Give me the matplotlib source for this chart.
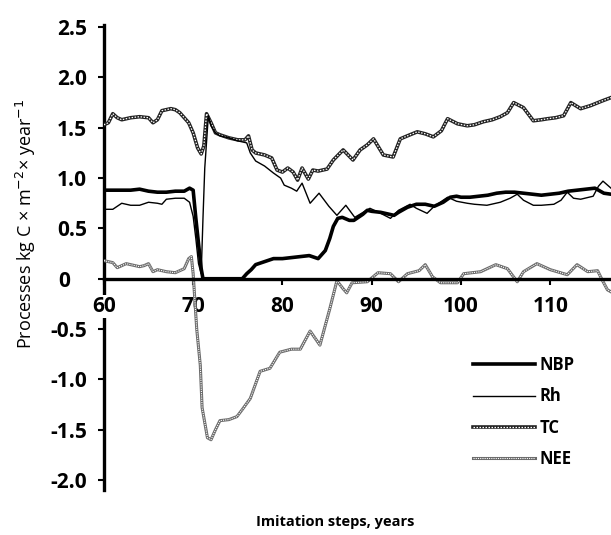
import matplotlib
matplotlib.use('Agg')
import matplotlib.pyplot as plt
from matplotlib.lines import Line2D

plt.rcParams['font.family'] = ['Open Sans', 'DejaVu Sans']

# NBP
nbp_x = [60, 61, 62, 63, 64, 65, 66, 67, 68, 69, 69.6, 70.0, 70.3, 70.6, 70.9, 71.1,
         72, 73, 74, 75, 75.5, 76, 76.5, 77, 78, 79, 80, 81, 82, 83, 84, 84.8, 85.3,
         85.7, 86.2, 86.7, 87.5, 88, 89, 89.5, 90, 91, 92, 92.5, 93, 94, 95, 96, 97,
         98, 98.8, 99.5, 100, 101, 102, 103, 104, 105, 106, 107, 108, 109, 110, 111,
         112, 113, 114, 115, 116, 116.8]
nbp_y = [0.88, 0.88, 0.88, 0.88, 0.89, 0.87, 0.86, 0.86, 0.87, 0.87, 0.90, 0.88, 0.60,
         0.35, 0.10, 0.0, 0.0, 0.0, 0.0, 0.0, 0.0, 0.05, 0.09, 0.14, 0.17, 0.20, 0.20,
         0.21, 0.22, 0.23, 0.20, 0.28, 0.40, 0.52, 0.60, 0.61, 0.58, 0.58, 0.64, 0.68,
         0.67, 0.66, 0.64, 0.63, 0.66, 0.71, 0.74, 0.74, 0.72, 0.76, 0.81, 0.82, 0.81,
         0.81, 0.82, 0.83, 0.85, 0.86, 0.86, 0.85, 0.84, 0.83, 0.84, 0.85, 0.87, 0.88,
         0.89, 0.90, 0.85, 0.84]

# Rh
rh_x = [60, 61, 62, 63, 64, 65, 66, 66.5, 67, 68, 69, 69.6, 70.0, 70.3, 70.6, 70.9,
        71.1, 71.3, 71.7, 72, 72.5, 73, 74, 75, 76, 76.4, 77, 78, 79, 79.8, 80.2, 81,
        81.6, 82.2, 83.1, 84.1, 85.2, 86.1, 87.1, 88.1, 89.8, 91, 92.1, 93, 94.3, 95,
        96.2, 97, 98.5, 99.5, 100.7, 101.5, 102.9, 104.4, 105.5, 106.3, 107, 108.1,
        109, 110.4, 111.2, 111.9, 112.6, 113.4, 114.8, 115.4, 115.9, 116.8]
rh_y = [0.69, 0.69, 0.75, 0.73, 0.73, 0.76, 0.75, 0.74, 0.79, 0.80, 0.80, 0.76, 0.62,
        0.40, 0.15, 0.05, 0.60, 1.10, 1.62, 1.52, 1.45, 1.42, 1.40, 1.37, 1.35, 1.25,
        1.17, 1.12, 1.05, 1.00, 0.93, 0.90, 0.87, 0.95, 0.75, 0.85, 0.72, 0.63, 0.73,
        0.61, 0.70, 0.65, 0.60, 0.68, 0.74, 0.70, 0.65, 0.72, 0.81, 0.77, 0.75, 0.74,
        0.73, 0.76, 0.80, 0.84, 0.78, 0.73, 0.73, 0.74, 0.78, 0.86, 0.80, 0.79, 0.82,
        0.92, 0.97, 0.90]

# TC
tc_x = [60, 60.5, 61, 61.5, 62, 63, 64, 65, 65.5, 66, 66.5, 67, 67.5, 68, 68.5, 69,
        69.5, 70, 70.5, 70.9, 71.2, 71.5, 72, 72.5, 73, 74, 75, 75.8, 76.2, 76.6, 77,
        78, 78.8, 79.4, 80, 80.6, 81.2, 81.7, 82.2, 82.9, 83.4, 84, 85, 85.7, 86.8,
        87.9, 88.7, 89.5, 90.2, 91.3, 92.4, 93.2, 94, 95.1, 96, 96.9, 97.8, 98.5, 99.6,
        100.7, 101.5, 102.5, 103.5, 104.4, 105.2, 105.9, 107, 108.1, 109, 109.7, 110.6,
        111.5, 112.3, 113.4, 114.5, 115.9, 116.8]
tc_y = [1.53, 1.55, 1.64, 1.60, 1.58, 1.60, 1.61, 1.60, 1.55, 1.58, 1.67, 1.68, 1.69,
        1.68, 1.65, 1.60, 1.55, 1.45, 1.30, 1.24, 1.32, 1.64, 1.55, 1.45, 1.43, 1.40,
        1.38, 1.38, 1.42, 1.28, 1.25, 1.23, 1.20, 1.08, 1.06, 1.10, 1.06, 0.98, 1.10,
        0.99, 1.08, 1.07, 1.09, 1.18, 1.28, 1.18, 1.28, 1.33, 1.39, 1.23, 1.21, 1.39,
        1.42, 1.46, 1.44, 1.41, 1.47, 1.59, 1.54, 1.52, 1.53, 1.56, 1.58, 1.61, 1.65,
        1.75, 1.70, 1.57, 1.58, 1.59, 1.60, 1.62, 1.75, 1.69, 1.72, 1.77, 1.80]

# NEE
nee_x = [60, 60.5, 61, 61.5, 62, 62.5, 63, 64, 64.5, 65, 65.5, 66, 67, 68, 68.5, 69,
         69.5, 69.8, 70.0, 70.4, 70.8, 71.0, 71.6, 72.0, 72.5, 73, 74, 74.9, 75.5, 76.4,
         77.5, 78.6, 79.7, 81, 82, 83.1, 84.2, 85.3, 86.1, 86.8, 87.2, 87.8, 89.5, 90.7,
         92.1, 93, 94, 95.3, 96, 96.8, 97.7, 99.6, 100.3, 102.2, 103.9, 105.2, 106.3,
         107, 108.5, 110, 111.9, 113, 114.2, 115.3, 115.8, 116.4, 116.8]
nee_y = [0.18, 0.17, 0.16, 0.11, 0.13, 0.15, 0.14, 0.12, 0.13, 0.15, 0.07, 0.09, 0.07,
         0.06, 0.08, 0.10, 0.20, 0.22, 0.05, -0.50, -0.86, -1.28, -1.58, -1.60, -1.50,
         -1.41, -1.40, -1.37, -1.30, -1.19, -0.92, -0.89, -0.73, -0.70, -0.70, -0.52,
         -0.66, -0.30, -0.02, -0.10, -0.14, -0.04, -0.03, 0.06, 0.05, -0.03, 0.05, 0.08,
         0.14, 0.02, -0.04, -0.04, 0.05, 0.07, 0.14, 0.10, -0.03, 0.07, 0.15, 0.09, 0.04,
         0.14, 0.07, 0.08, -0.01, -0.11, -0.13]

x_ticks = [60, 70, 80, 90, 100, 110]
y_ticks = [2.5, 2.0, 1.5, 1.0, 0.5, 0, -0.5, -1.0, -1.5, -2.0]
# the zero label sits further left in the original, hence the trailing spaces
y_tick_labels = ['2.5', '2.0', '1.5', '1.0', '0.5', '0   ', '-0.5', '-1.0', '-1.5', '-2.0']

fig = plt.figure(figsize=(6.11, 5.35), dpi=100)
ax = fig.add_axes([0.170, 0.084, 0.830, 0.869])

ax.plot(nbp_x, nbp_y, color='black', lw=2.6, zorder=5)
ax.plot(rh_x, rh_y, color='black', lw=1.0, zorder=4)

# beaded look for TC and NEE: dark base line with a white dotted line on top
tc_base, = ax.plot(tc_x, tc_y, color='#222222', lw=2.6, zorder=3)
tc_top, = ax.plot(tc_x, tc_y, color='white', lw=0.9, ls=(0, (1.2, 1.2)), zorder=3)
nee_base, = ax.plot(nee_x, nee_y, color='#6a6a6a', lw=2.2, zorder=2)
nee_top, = ax.plot(nee_x, nee_y, color='white', lw=0.8, ls=(0, (1, 1)), zorder=2)

ax.set_xlim(60, 116.8)
ax.set_ylim(-2.1, 2.52)

ax.spines['top'].set_visible(False)
ax.spines['right'].set_visible(False)
ax.spines['bottom'].set_position(('data', 0))
ax.spines['bottom'].set_linewidth(2.4)
ax.spines['left'].set_linewidth(2.4)
ax.spines['bottom'].set_zorder(6)
ax.spines['left'].set_zorder(1)

ax.set_xticks(x_ticks)
ax.set_xticklabels([str(t) for t in x_ticks], fontsize=15, fontweight='bold')
ax.set_yticks(y_ticks)
ax.set_yticklabels(y_tick_labels, fontsize=15, fontweight='bold')
ax.tick_params(axis='x', direction='out', length=4, width=1.5, pad=8.5)
ax.tick_params(axis='y', direction='out', length=4, width=1.5, pad=8)
# "60" covers the left spine as in the original
ax.get_xticklabels()[0].set_bbox(dict(facecolor='white', edgecolor='none', pad=0.5))

fig.text(26 / 611, 1 - 224 / 535, 'Processes kg C × m$^{-2}$× year$^{-1}$',
         rotation=90, ha='center', va='center', fontsize=13)
fig.text(335 / 611, 1 - 522 / 535, 'Imitation steps, years',
         ha='center', va='center', fontsize=10.5, fontweight='bold')

handles = [
    Line2D([], [], color='black', lw=2.6),
    Line2D([], [], color='black', lw=1.0),
    (tc_base, tc_top),
    (nee_base, nee_top),
]
ax.legend(handles, ['NBP', 'Rh', 'TC', 'NEE'], loc='upper left',
          bbox_to_anchor=(473 / 611, 1 - 356 / 535), bbox_transform=fig.transFigure,
          frameon=False, borderpad=0, borderaxespad=0, handlelength=3.7,
          handletextpad=0.3, labelspacing=0.8,
          prop={'weight': 'bold', 'size': 12})

fig.savefig('out.png', dpi=100)
